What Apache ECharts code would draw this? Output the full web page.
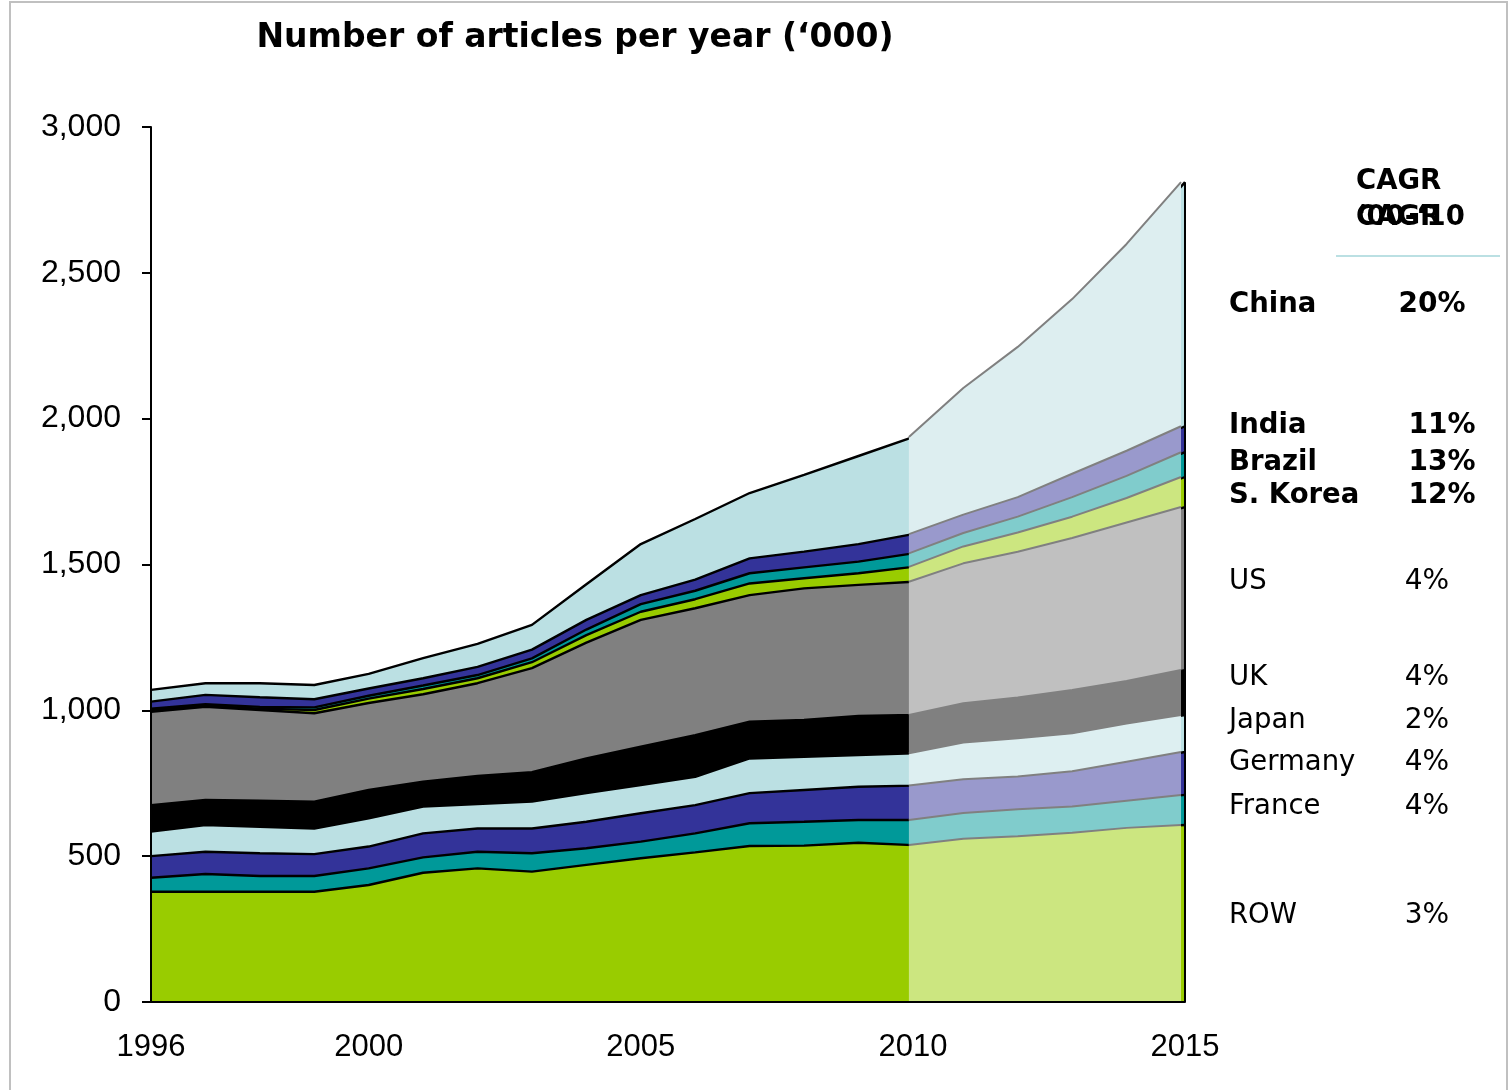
<!DOCTYPE html>
<html>
<head>
<meta charset="utf-8">
<script src="https://cdn.jsdelivr.net/npm/echarts@6/dist/echarts.min.js"></script>
<style>
  html, body { margin: 0; padding: 0; background: #ffffff; }
  #chart { width: 1511px; height: 1090px; }
</style>
</head>
<body>
<div id="chart"></div>
<script>
// Publication output by country, thousands of articles per year.
// 1996-2010 actuals, 2011-2015 projected (2010 shared by both parts).
const years = ['1996','1997','1998','1999','2000','2001','2002','2003','2004','2005',
               '2006','2007','2008','2009','2010','2011','2012','2013','2014','2015'];
const yearTickLabels = ['1996', '2000', '2005', '2010', '2015'];
const lastActualYear = '2010';

const countries = ['ROW', 'France', 'Germany', 'Japan', 'UK', 'US', 'S. Korea', 'Brazil', 'India', 'China'];

const rowValues     = [378,378,378,378,401,443,458,447,470,493,513,535,536,546,538,560,568,580,597,607];
const franceValues  = [48,61,54,54,57,53,57,63,57,57,65,78,82,78,86,88,93,90,93,103];
const germanyValues = [74,76,78,75,75,82,80,85,91,97,97,103,109,114,118,116,112,121,134,147];
const japanValues   = [84,92,91,88,97,92,84,92,98,97,97,119,114,109,111,126,131,130,131,127];
const ukValues      = [91,86,89,92,97,85,96,101,119,131,143,126,126,134,131,134,140,149,146,154];
const usValues      = [320,319,311,303,298,300,318,357,397,435,435,434,451,449,457,480,500,521,543,559];
const koreaValues   = [6,4,5,11,15,18,17,20,26,28,31,40,35,40,51,58,66,73,84,103];
const brazilValues  = [5,5,6,9,10,12,11,13,19,26,29,35,37,40,46,46,54,67,76,85];
const indiaValues   = [24,32,33,28,25,25,28,30,33,31,38,51,54,60,66,63,67,80,86,89];
const chinaValues   = [40,40,48,49,50,69,79,85,122,175,208,224,263,302,333,434,515,599,709,837];

// Compound annual growth 2000-2010, shown in the right-hand column
const cagrNames  = ['China', 'India', 'Brazil', 'S. Korea', 'US', 'UK', 'Japan', 'Germany', 'France', 'ROW'];
const cagrValues = ['20%', '11%', '13%', '12%', '4%', '4%', '2%', '4%', '4%', '3%'];

const yTicks = [0, 500, 1000, 1500, 2000, 2500, 3000];

const seriesValues = [rowValues, franceValues, germanyValues, japanValues, ukValues,
                      usValues, koreaValues, brazilValues, indiaValues, chinaValues];

// fills: solid tones for actuals, washed-out tones for projections
const actualColors    = ['#99CC00', '#009999', '#333399', '#BBE0E3', '#000000',
                         '#808080', '#99CC00', '#009999', '#333399', '#BBE0E3'];
const projectedColors = ['#CCE680', '#80CCCC', '#9999CC', '#DDEFF1', '#808080',
                         '#C0C0C0', '#CCE680', '#80CCCC', '#9999CC', '#DDEEF0'];

// right-hand column layout: [name x, value centre x, y, bold]
const columnLayout = [
  [1229, 1432, 305, true],
  [1229, 1442, 426, true],
  [1229, 1442, 463, true],
  [1229, 1442, 496, true],
  [1229, 1427, 582, false],
  [1229, 1427, 678, false],
  [1229, 1427, 721, false],
  [1229, 1427, 763, false],
  [1229, 1427, 807, false],
  [1229, 1427, 916, false]
];

const TEXT_FONT = '"DejaVu Sans", Verdana, sans-serif';
const AXIS_FONT = '"Liberation Sans", Arial, sans-serif';

const splitIndex = years.indexOf(lastActualYear);
const lastIndex = years.length - 1;
const grandTotal = seriesValues.reduce((s, arr) => s + arr[lastIndex], 0);

function textEl(str, x, y, bold, size, align) {
  const font = (bold ? 'bold ' : '') + size + 'px ' + TEXT_FONT;
  return {
    type: 'text', silent: true, z: 20,
    style: {
      text: str, x: x, y: y, font: font, fill: '#000',
      align: align || 'left', verticalAlign: 'middle',
      textAlign: align || 'left', textVerticalAlign: 'middle'
    }
  };
}

const series = [];
countries.forEach((name, i) => {
  const s = {
    name: name, type: 'line', xAxisIndex: 0, yAxisIndex: 0, stack: 'actual',
    data: seriesValues[i], symbol: 'none', showSymbol: false, z: 2,
    lineStyle: { color: '#000', width: 2.4 },
    itemStyle: { color: actualColors[i] },
    areaStyle: { color: actualColors[i], opacity: 1 },
    emphasis: { disabled: true }, animation: false
  };
  if (i === countries.length - 1) {
    s.markLine = {
      silent: true, symbol: 'none', animation: false,
      label: { show: false },
      lineStyle: { color: '#000', width: 2, type: 'solid' },
      data: [[{ coord: [years[lastIndex], 0] }, { coord: [years[lastIndex], grandTotal] }]]
    };
  }
  series.push(s);
});
countries.forEach((name, i) => {
  series.push({
    name: name + ' projected', type: 'line', xAxisIndex: 1, yAxisIndex: 1, stack: 'projected',
    data: seriesValues[i].map((v, j) => (j >= splitIndex ? v : '-')),
    symbol: 'none', showSymbol: false, z: 3,
    lineStyle: { color: '#808080', width: 2 },
    itemStyle: { color: projectedColors[i] },
    areaStyle: { color: projectedColors[i], opacity: 1 },
    emphasis: { disabled: true }, animation: false
  });
});

const graphics = [
  {
    type: 'rect', silent: true, z: 0,
    shape: { x: 10, y: 2, width: 1497, height: 1100 },
    style: { fill: 'none', stroke: '#C0C0C0', lineWidth: 2 }
  },
  textEl('Number of articles per year (\u2018000)', 575, 38, true, 33, 'center'),
  textEl('CAGR', 1356, 182, true, 27.5),
  textEl('\u201800-\u201810', 1356, 218, true, 27.5),
  textEl('CAGR', 1356, 218, true, 27.5),
  {
    type: 'line', silent: true, z: 20,
    shape: { x1: 1336, y1: 256, x2: 1500, y2: 256 },
    style: { stroke: '#BBE0E3', lineWidth: 2 }
  }
];
cagrNames.forEach((n, i) => {
  const [nx, vx, y, bold] = columnLayout[i];
  graphics.push(textEl(n, nx, y, bold, 27.5));
  graphics.push(textEl(cagrValues[i], vx, y, bold, 28, 'center'));
});

const chart = echarts.init(document.getElementById('chart'), null, { renderer: 'canvas' });
chart.setOption({
  backgroundColor: '#ffffff',
  animation: false,
  grid: [
    { left: 151, right: 326, top: 127, bottom: 88 },
    { left: 147, right: 330, top: 127, bottom: 88 }
  ],
  xAxis: [
    {
      type: 'category', gridIndex: 0, data: years, boundaryGap: false, z: 10,
      axisLine: { lineStyle: { color: '#000', width: 2 } },
      axisTick: { show: false },
      axisLabel: {
        interval: (idx, val) => yearTickLabels.includes(val),
        color: '#000', fontFamily: AXIS_FONT, fontSize: 31, margin: 30
      },
      splitLine: { show: false }
    },
    { type: 'category', gridIndex: 1, data: years, boundaryGap: false, show: false }
  ],
  yAxis: [
    {
      type: 'value', gridIndex: 0, min: yTicks[0], max: yTicks[yTicks.length - 1], interval: 500, z: 10,
      axisLine: { show: true, lineStyle: { color: '#000', width: 2 } },
      axisTick: { show: true, length: 9, lineStyle: { color: '#000', width: 2 } },
      axisLabel: {
        formatter: v => v.toLocaleString('en-US'),
        color: '#000', fontFamily: AXIS_FONT, fontSize: 32, margin: 30
      },
      splitLine: { show: false }
    },
    { type: 'value', gridIndex: 1, min: 0, max: 3000, interval: 500, show: false }
  ],
  series: series,
  graphic: graphics
});
</script>
</body>
</html>
